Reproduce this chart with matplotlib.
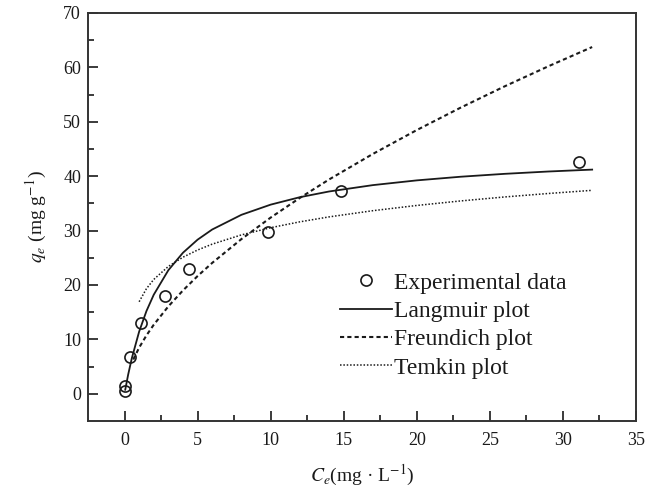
import matplotlib
matplotlib.use("Agg")
import matplotlib.pyplot as plt
import numpy as np

plt.rcParams["font.family"] = ["Liberation Serif", "DejaVu Serif"]
plt.rcParams["mathtext.fontset"] = "stix"

# experimental equilibrium data
ce_exp = [0.0, 0.05, 0.36, 1.14, 2.74, 4.38, 9.79, 14.78, 31.1]
qe_exp = [0.6, 1.5, 6.7, 13.0, 18.0, 22.9, 29.8, 37.2, 42.6]

# fitted isotherm curves
ce_lang = [0.05, 0.25, 0.5, 1, 1.5, 2, 3, 4, 5, 6, 8, 10, 12, 14, 17, 20, 23, 26, 29, 32]
qe_lang = [0.75, 3.53, 6.54, 11.42, 15.2, 18.21, 22.72, 25.93, 28.33, 30.2, 32.9,
           34.77, 36.14, 37.19, 38.36, 39.23, 39.9, 40.43, 40.86, 41.21]

ce_freu = [0.6, 1, 1.5, 2, 3, 4, 5, 6, 8, 10, 12, 14, 17, 20, 23, 26, 29, 32]
qe_freu = [6.30, 8.48, 10.73, 12.69, 16.07, 19.0, 21.64, 24.06, 28.44, 32.39,
           36.01, 39.4, 44.1, 48.48, 52.6, 56.5, 60.2, 63.74]

ce_temk = [1, 1.5, 2, 3, 4, 5, 6, 8, 10, 12, 14, 17, 20, 23, 26, 29, 32]
qe_temk = [16.92, 19.32, 21.02, 23.41, 25.11, 26.43, 27.51, 29.21, 30.53, 31.61,
           32.52, 33.66, 34.62, 35.45, 36.18, 36.82, 37.4]

ink = "#1a1a1a"

fig = plt.figure(figsize=(6.59, 4.88), dpi=100)
ax = fig.add_axes([0.1335, 0.1373, 0.8316, 0.8361])

ax.plot(ce_exp, qe_exp, "o", ms=8, mfc="none", mec=ink, mew=1.2,
        label="Experimental data", zorder=3)
ax.plot(ce_lang, qe_lang, "-", color=ink, lw=1.3, label="Langmuir plot")
ax.plot(ce_freu, qe_freu, color=ink, lw=1.5, ls=(0, (2, 1.5)), label="Freundich plot")
ax.plot(ce_temk, qe_temk, color=ink, lw=1.1, ls=(0, (1, 1.2)), label="Temkin plot")

ax.set_xlim(-2.5, 35)
ax.set_ylim(-5, 70)
ax.set_xticks(np.arange(0, 36, 5))
ax.set_xticks(np.arange(2.5, 35, 5), minor=True)
ax.set_yticks(np.arange(0, 71, 10))
ax.set_yticks(np.arange(5, 70, 10), minor=True)
ax.tick_params(which="both", direction="in", color=ink, width=1.2, labelsize=13,
               labelcolor=ink)
ax.tick_params(which="major", length=7, pad=8)
ax.tick_params(which="minor", length=4)
ax.tick_params(axis="y", which="major", pad=5)
for s in ax.spines.values():
    s.set_linewidth(1.4)
    s.set_color("#333333")

ax.set_xlabel(r"$C_e$(mg · L$^{-1}$)", fontsize=14, color=ink, labelpad=10)
ax.set_ylabel(r"$q_e$ (mg g$^{-1}$)", fontsize=14, color=ink, labelpad=10)

leg = ax.legend(loc="upper left", bbox_to_anchor=(0.46, 0.365), frameon=False,
                fontsize=17, handlelength=2.2, handletextpad=0.1, labelspacing=0.29,
                borderpad=0, borderaxespad=0)
for t in leg.get_texts():
    t.set_color(ink)

fig.savefig("out.png", dpi=100)
